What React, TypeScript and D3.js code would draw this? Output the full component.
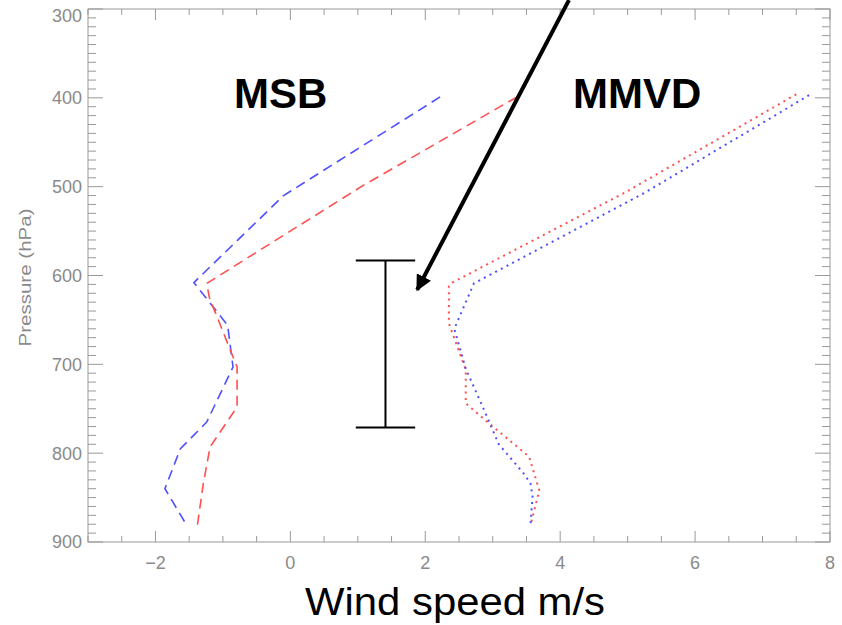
import React from "react";
import * as d3 from "d3";

// MSB profiles (dashed)
const msbBluePressure = [399, 510, 608, 656, 703, 765, 795, 840, 882];
const msbBlueSpeed = [2.22, -0.1, -1.43, -0.93, -0.85, -1.24, -1.63, -1.86, -1.53];
const msbRedPressure = [399, 500, 609, 625, 703, 748, 793, 834, 882];
const msbRedSpeed = [3.36, 1.05, -1.24, -1.2, -0.79, -0.79, -1.19, -1.29, -1.38];

// MMVD profiles (dotted)
const mmvdRedPressure = [396, 507, 608, 612, 654, 706, 744, 768, 804, 842, 881];
const mmvdRedSpeed = [7.5, 4.95, 2.4, 2.35, 2.35, 2.6, 2.6, 2.97, 3.54, 3.69, 3.56];
const mmvdBluePressure = [397, 507, 609, 660, 705, 751, 790, 823, 834, 849, 881];
const mmvdBlueSpeed = [7.69, 5.25, 2.72, 2.43, 2.6, 2.87, 3.09, 3.46, 3.56, 3.59, 3.56];

const xTickLabels = [-2, 0, 2, 4, 6, 8];
const yTickLabels = [300, 400, 500, 600, 700, 800, 900];

// annotations, in data units
const errorBar = { speed: 1.41, low: 583, high: 771, half: 0.44 };
const arrow = { fromSpeed: 4.13, fromP: 290, toSpeed: 1.88, toP: 616 };

const W = 842;
const H = 625;
const left = 88, right = 830, top = 9, bottom = 542;
const axisColor = "#999";
const labelColor = "#8a8a8a";
const blue = "#5050ff";
const red = "#ff5050";

const x = d3.scaleLinear().domain([-3, 8]).range([left, right]);
const y = d3.scaleLinear().domain([300, 900]).range([top, bottom]);

const line = d3
  .line<[number, number]>()
  .x((d) => x(d[0]))
  .y((d) => y(d[1]));

const zip = (s: number[], p: number[]) => s.map((v, i) => [v, p[i]] as [number, number]);

const series = [
  { pts: zip(msbBlueSpeed, msbBluePressure), color: blue, dash: "10 6", w: 1.6 },
  { pts: zip(msbRedSpeed, msbRedPressure), color: red, dash: "10 6", w: 1.6 },
  { pts: zip(mmvdRedSpeed, mmvdRedPressure), color: red, dash: "2 4.4", w: 2 },
  { pts: zip(mmvdBlueSpeed, mmvdBluePressure), color: blue, dash: "2 4.4", w: 2 },
];

export default function App() {
  const xMinor = d3.range(-3, 8.01, 0.5);
  const yMinor = d3.range(300, 900.1, 10);
  const font = "'Liberation Sans', Arial, sans-serif";

  return (
    <svg
      width={W}
      height={H}
      style={{ position: "absolute", left: 0, top: 0, background: "white" }}
      fontFamily={font}
    >
      <defs>
        <marker id="head" viewBox="0 0 10 10" refX="9" refY="5" markerWidth="4" markerHeight="4" orient="auto">
          <path d="M0,0 L10,5 L0,10 z" fill="black" />
        </marker>
      </defs>

      {/* frame */}
      <rect x={left} y={top} width={right - left} height={bottom - top} fill="none" stroke={axisColor} strokeWidth={1} />

      {/* x ticks bottom + top */}
      {xMinor.map((v) => {
        const major = xTickLabels.includes(v);
        const len = major ? 11 : 6;
        return (
          <g key={"x" + v} stroke={axisColor}>
            <line x1={x(v)} x2={x(v)} y1={bottom} y2={bottom - len} />
            <line x1={x(v)} x2={x(v)} y1={top} y2={top + len} />
          </g>
        );
      })}
      {xTickLabels.map((v) => (
        <text key={"xl" + v} x={x(v)} y={569} textAnchor="middle" fontSize={18} fill={labelColor}>
          {d3.format("")(v)}
        </text>
      ))}

      {/* y ticks left + right */}
      {yMinor.map((v) => {
        const major = v % 100 === 0;
        const len = major ? 15 : 8;
        return (
          <g key={"y" + v} stroke={axisColor}>
            <line x1={left} x2={left + len} y1={y(v)} y2={y(v)} />
            <line x1={right} x2={right - len} y1={y(v)} y2={y(v)} />
          </g>
        );
      })}
      {yTickLabels.map((v) => (
        <text
          key={"yl" + v}
          x={82}
          y={Math.max(y(v), top + 6.5)}
          dy="0.36em"
          textAnchor="end"
          fontSize={18}
          fill={labelColor}
        >
          {v}
        </text>
      ))}

      <text
        transform={`translate(31, ${(y(300) + y(900)) / 2 + 2}) rotate(-90)`}
        textAnchor="middle"
        fontSize={16}
        fill={labelColor}
        textLength={138}
        lengthAdjust="spacingAndGlyphs"
      >
        Pressure (hPa)
      </text>

      {/* profiles */}
      {series.map((s, i) => (
        <path
          key={i}
          d={line(s.pts) || ""}
          fill="none"
          stroke={s.color}
          strokeWidth={s.w}
          strokeDasharray={s.dash}
        />
      ))}

      {/* error bar */}
      <g stroke="black" strokeWidth={2}>
        <line x1={x(errorBar.speed)} x2={x(errorBar.speed)} y1={y(errorBar.low)} y2={y(errorBar.high)} />
        <line
          x1={x(errorBar.speed - errorBar.half)}
          x2={x(errorBar.speed + errorBar.half)}
          y1={y(errorBar.low)}
          y2={y(errorBar.low)}
        />
        <line
          x1={x(errorBar.speed - errorBar.half)}
          x2={x(errorBar.speed + errorBar.half)}
          y1={y(errorBar.high)}
          y2={y(errorBar.high)}
        />
      </g>

      {/* arrow */}
      <line
        x1={x(arrow.fromSpeed)}
        y1={y(arrow.fromP)}
        x2={x(arrow.toSpeed)}
        y2={y(arrow.toP)}
        stroke="black"
        strokeWidth={4}
        markerEnd="url(#head)"
      />

      <text x={234} y={108} fontSize={42} fontWeight="bold" fill="black">
        MSB
      </text>
      <text x={573} y={108} fontSize={42} fontWeight="bold" fill="black">
        MMVD
      </text>
      <text x={455} y={615} textAnchor="middle" fontSize={38} fill="black" textLength={300} lengthAdjust="spacingAndGlyphs">
        Wind speed m/s
      </text>
    </svg>
  );
}
